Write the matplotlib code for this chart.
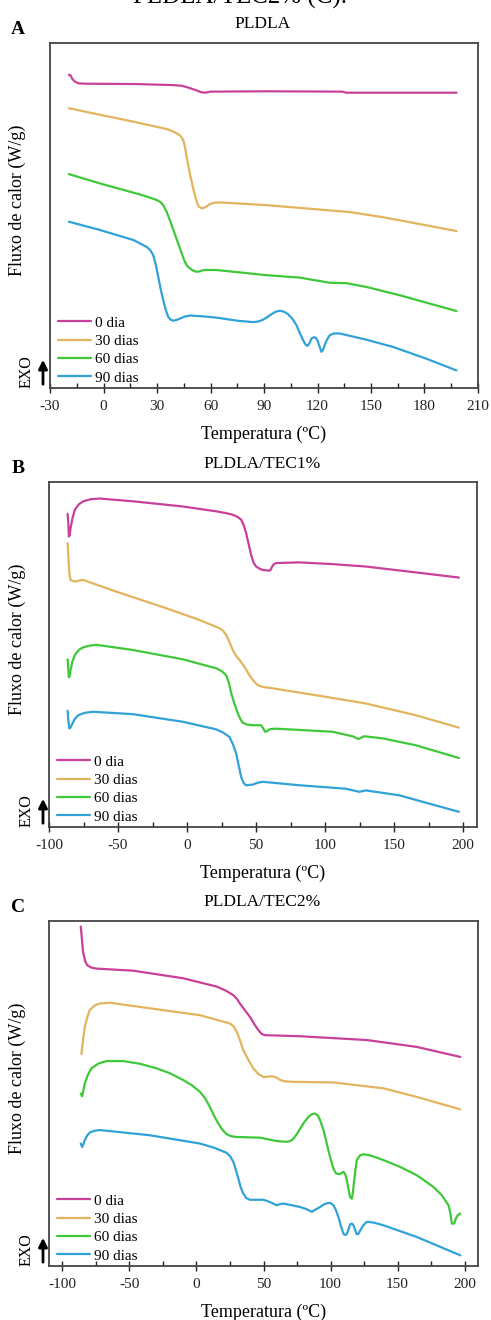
import matplotlib
matplotlib.use("Agg")
import matplotlib.pyplot as plt
from matplotlib.patches import FancyArrowPatch
from matplotlib.ticker import MultipleLocator

plt.rcParams['font.family'] = ['Liberation Serif', 'DejaVu Serif']
plt.rcParams['axes.unicode_minus'] = False

labels = ['0 dia', '30 dias', '60 dias', '90 dias']
colors = ['#c8409a', '#e3b45e', '#3ec83a', '#30a2d8']

# ---- PLDLA ----
a_t0 = [-19.4, -18.5, -17.5, -16.0, -14.0, -10.0, 18.6, 39.0, 44.0, 48.0, 52.0, 55.0, 57.0,
        60.0, 91.0, 134.0, 136.0, 198.0]
a_v0 = [90.8, 90.6, 89.6, 88.8, 88.3, 88.2, 88.1, 87.8, 87.6, 87.0, 86.3, 85.7, 85.6,
        85.9, 86.0, 85.9, 85.6, 85.6]
a_t30 = [-19.4, -2.0, 16.7, 31.6, 36.0, 40.0, 43.0, 44.8, 45.6, 47.0, 48.4, 50.0, 51.2, 52.5,
         53.5, 55.0, 56.3, 58.0, 59.6, 62.0, 65.3, 91.4, 119.4, 138.0, 156.8, 175.4, 197.9]
a_v30 = [81.1, 79.2, 77.2, 75.5, 75.0, 74.1, 73.2, 71.8, 70.0, 66.0, 62.2, 58.5, 56.0, 53.6,
         52.6, 52.1, 52.2, 52.7, 53.3, 53.7, 53.8, 53.0, 51.8, 51.0, 49.5, 47.7, 45.5]
a_t60 = [-19.4, -2.0, 20.4, 26.0, 29.8, 32.0, 33.5, 35.3, 37.2, 39.5, 41.9, 44.0, 45.6, 47.0,
         48.4, 50.3, 52.2, 54.0, 56.0, 63.4, 91.4, 110.0, 126.9, 136.0, 147.4, 166.0, 198.0]
a_v60 = [62.0, 59.3, 56.1, 55.2, 54.5, 53.9, 53.0, 51.2, 48.7, 45.3, 41.9, 38.8, 36.6, 35.3,
         34.7, 34.0, 33.7, 33.8, 34.2, 34.2, 32.7, 32.0, 30.5, 30.4, 29.3, 26.9, 22.3]
a_t90 = [-19.4, -2.0, 16.7, 24.2, 26.3, 27.9, 29.3, 30.7, 32.0, 33.5, 35.0, 36.3, 37.7, 39.1,
         40.8, 42.8, 45.5, 48.4, 55.0, 63.4, 75.0, 84.0, 87.0, 89.5, 92.0, 94.2, 96.5, 98.9,
         101.3, 103.5, 106.0, 108.2, 110.2, 112.0, 113.3, 114.4, 115.5, 116.6, 117.8, 119.0,
         120.0, 120.9, 122.2, 123.1, 124.0, 125.3, 126.9, 129.0, 132.5, 147.4, 162.4, 181.0,
         197.9]
a_v90 = [48.2, 45.8, 42.9, 40.9, 39.9, 38.5, 35.8, 32.2, 28.8, 25.5, 22.5, 20.6, 19.8, 19.5,
         19.7, 20.1, 20.7, 21.0, 20.8, 20.4, 19.5, 19.1, 19.3, 19.8, 20.6, 21.4, 22.1, 22.4,
         22.1, 21.4, 20.0, 18.2, 15.8, 13.8, 12.6, 12.2, 13.0, 14.3, 14.7, 14.6,
         13.8, 12.4, 10.5, 11.0, 12.4, 14.0, 15.3, 15.8, 15.8, 14.0, 11.9, 8.5,
         5.1]

# ---- PLDLA/TEC1% ----
b_t0 = [-86.5, -86.0, -85.6, -85.0, -84.4, -83.0, -81.2, -78.5, -75.2, -70.0, -63.2, -39.1,
        -3.0, 21.1, 28.0, 33.1, 36.5, 39.2, 41.0, 42.8, 44.6, 46.4, 48.2, 50.0, 52.4, 54.8,
        59.6, 60.6, 61.6, 63.0, 64.5, 81.3, 105.4, 129.5, 165.6, 196.9]
b_v0 = [90.8, 88.0, 84.2, 84.5, 86.6, 89.5, 92.0, 93.5, 94.4, 95.0, 95.2, 94.4,
        92.9, 91.5, 91.0, 90.5, 89.9, 89.1, 87.5, 85.2, 82.0, 78.9, 76.6, 75.5, 74.9, 74.5,
        74.3, 74.6, 75.5, 76.2, 76.5, 76.7, 76.2, 75.5, 73.8, 72.3]
b_t30 = [-86.5, -85.6, -85.0, -84.4, -82.0, -80.0, -77.5, -75.2, -51.1, -15.0, 9.1, 23.5,
         26.0, 28.3, 30.7, 33.1, 35.5, 38.0, 41.6, 45.2, 48.2, 51.2, 55.0, 62.0, 93.3, 129.5,
         165.6, 196.9]
b_v30 = [82.3, 75.5, 72.8, 71.6, 71.2, 71.2, 71.5, 71.6, 68.2, 63.4, 60.0, 57.6,
         56.9, 55.7, 53.6, 51.3, 49.6, 48.4, 46.4, 44.0, 42.3, 41.1, 40.6, 40.2, 38.2, 35.8,
         32.4, 28.8]
b_t60 = [-86.5, -86.0, -85.6, -85.0, -84.4, -83.0, -81.2, -78.5, -75.2, -70.0, -65.6, -39.1,
         -3.0, 21.1, 25.0, 28.3, 30.3, 32.0, 34.4, 36.8, 38.6, 40.4, 43.5, 47.6, 53.6, 55.0,
         56.5, 58.0, 59.6, 63.0, 69.3, 105.4, 119.8, 124.1, 128.2, 141.5, 165.6, 196.9]
b_v60 = [48.6, 45.5, 43.4, 43.8, 45.5, 48.0, 49.9, 51.3, 52.1, 52.6, 52.8, 51.3,
         48.6, 46.0, 45.2, 44.0, 41.8, 38.7, 35.6, 32.9, 31.3, 30.2, 29.7, 29.5, 29.5, 28.7,
         27.6, 27.8, 28.3, 28.5, 28.4, 27.6, 26.3, 25.5, 26.3, 25.7, 23.7, 20.0]
b_t90 = [-86.5, -86.0, -85.3, -84.5, -83.6, -81.5, -78.8, -74.0, -68.0, -39.1, -3.0, 21.1,
         26.0, 30.7, 33.2, 35.6, 37.4, 39.2, 41.0, 42.8, 47.6, 51.0, 54.8, 81.3, 115.0, 124.6,
         129.5, 153.5, 196.9]
b_v90 = [33.7, 31.0, 28.6, 28.8, 29.5, 31.2, 32.4, 33.1, 33.4, 32.7, 30.5, 28.3,
         27.4, 26.1, 24.0, 21.3, 17.8, 14.5, 12.7, 12.1, 12.3, 12.8, 13.1, 12.1, 11.1, 10.2,
         10.6, 9.2, 4.4]

# ---- PLDLA/TEC2% ----
c_t0 = [-86.3, -85.5, -84.6, -83.2, -81.6, -78.5, -74.6, -47.2, -9.9, 15.0, 22.0, 27.5,
        30.0, 32.4, 36.0, 39.9, 43.0, 46.1, 48.5, 51.1, 60.0, 77.3, 127.0, 164.4, 196.8]
c_v0 = [98.4, 95.0, 91.1, 88.6, 87.2, 86.5, 86.2, 85.6, 83.4, 81.0, 79.8, 78.5,
        77.5, 76.1, 74.2, 72.2, 70.2, 68.4, 67.3, 66.9, 66.8, 66.6, 65.5, 63.5, 60.6]
c_t30 = [-85.8, -84.6, -83.3, -81.5, -79.6, -76.0, -72.1, -64.6, -34.8, 2.6, 25.0, 27.8,
         30.0, 32.5, 34.9, 38.6, 42.4, 46.0, 49.9, 52.0, 54.9, 57.3, 59.8, 62.0, 64.8, 70.0,
         102.2, 139.5, 164.4, 196.8]
c_v30 = [61.4, 65.5, 69.3, 72.0, 74.2, 75.5, 76.1, 76.3, 74.7, 72.7, 70.3, 69.4,
         67.9, 65.4, 62.6, 59.8, 57.3, 55.7, 54.8, 54.8, 55.0, 54.9, 54.6, 54.0, 53.6, 53.4,
         53.2, 51.5, 49.0, 45.4]
c_t60 = [-86.3, -85.3, -84.4, -83.3, -81.0, -78.3, -73.0, -67.1, -54.7, -42.0, -29.8, -20.0,
         -9.9, -3.5, 2.6, 6.5, 10.0, 13.2, 16.3, 19.3, 22.5, 26.0, 30.0, 47.4, 60.0, 67.3,
         70.0, 72.3, 74.8, 77.3, 80.4, 83.5, 86.0, 88.5, 90.5, 92.2, 94.8, 97.2, 99.7, 102.2,
         104.0, 105.9, 107.7, 109.6, 111.0, 112.1, 113.4, 114.6, 115.8, 116.4, 117.1, 118.3,
         119.6, 121.8, 124.6, 130.0, 139.5, 152.0, 164.4, 176.8, 183.0, 188.0, 189.3, 190.5,
         192.3, 193.5, 194.8, 196.8]
c_v60 = [50.0, 49.2, 50.8, 52.9, 55.4, 57.3, 58.7, 59.4, 59.4, 58.6, 57.3, 55.9,
         53.9, 52.4, 50.5, 48.6, 46.1, 43.5, 41.3, 39.5, 38.2, 37.6, 37.4, 37.2, 36.2, 36.0,
         36.2, 36.9, 38.2, 39.8, 41.7, 43.2, 44.0, 44.2, 43.6, 42.3, 39.3, 35.5, 31.5, 28.2,
         26.9, 26.6, 26.8, 27.3, 26.6, 24.9, 22.3, 20.0, 19.5, 20.5, 22.9, 27.0,
         30.7, 32.0, 32.4, 32.0, 30.7, 28.7, 26.3, 22.9, 20.5, 17.6, 15.5, 12.3,
         12.3, 13.8, 14.7, 15.2]
c_t90 = [-86.3, -85.3, -84.3, -83.3, -81.5, -79.6, -76.0, -72.1, -34.8, 2.6, 13.0, 22.5,
         25.2, 27.5, 29.4, 31.2, 33.0, 34.9, 37.2, 39.9, 49.9, 53.0, 56.1, 59.8, 62.0, 64.8,
         70.0, 77.3, 82.0, 86.0, 89.0, 92.2, 95.3, 98.4, 100.3, 102.2, 104.0, 105.9, 107.8,
         109.6, 110.8, 112.1, 113.4, 114.6, 115.8, 117.1, 118.4, 119.6, 120.8, 122.1, 124.5,
         127.0, 132.0, 139.5, 164.4, 196.8]
c_v90 = [35.5, 34.5, 35.3, 36.5, 37.8, 38.7, 39.2, 39.4, 37.9, 35.5, 34.3, 32.8,
         31.8, 30.2, 27.8, 25.4, 22.8, 21.0, 19.7, 19.2, 19.2, 18.8, 18.3, 17.6, 17.9, 18.1,
         17.7, 17.1, 16.5, 15.7, 16.4, 17.1, 17.9, 18.3, 18.2, 17.6, 16.2, 14.2, 11.5,
         9.4, 9.0, 9.2, 10.6, 12.1, 12.3, 11.8, 10.4, 9.2, 9.3, 10.3, 11.8,
         12.8, 12.6, 11.8, 8.4, 3.1]

panels = [
    dict(letter='A', title='PLDLA', rect=[50/491, 1-388/1320, 428/491, 345/1320],
         xlim=(-30, 210), major=30, minor=15, title_y=23,
         curves=[(a_t0, a_v0), (a_t30, a_v30), (a_t60, a_v60), (a_t90, a_v90)]),
    dict(letter='B', title='PLDLA/TEC1%', rect=[49/491, 1-827/1320, 428/491, 345/1320],
         xlim=(-100, 210), major=50, minor=25, title_y=463,
         curves=[(b_t0, b_v0), (b_t30, b_v30), (b_t60, b_v60), (b_t90, b_v90)]),
    dict(letter='C', title='PLDLA/TEC2%', rect=[49/491, 1-1266/1320, 429/491, 345/1320],
         xlim=(-110, 210), major=50, minor=25, title_y=901,
         curves=[(c_t0, c_v0), (c_t30, c_v30), (c_t60, c_v60), (c_t90, c_v90)]),
]

W, H = 491, 1320
fig = plt.figure(figsize=(W/100, H/100), dpi=100)

# caption line of the page above, only its lower edge falls on the canvas
fig.text(240/W, 1-4/H, 'PLDLA/TEC2% (C).', ha='center', va='baseline', fontsize=18)

for p in panels:
    ax = fig.add_axes(p['rect'])
    for (t, v), c, lab in zip(p['curves'], colors, labels):
        ax.plot(t, v, color=c, lw=1.6, label=lab, solid_joinstyle='round',
                solid_capstyle='round')
    ax.set_xlim(*p['xlim'])
    ax.set_ylim(0, 100)
    ax.set_yticks([])
    ax.xaxis.set_major_locator(MultipleLocator(p['major']))
    ax.xaxis.set_minor_locator(MultipleLocator(p['minor']))
    ax.tick_params(axis='x', which='major', direction='inout', length=7, width=1,
                   labelsize=11, pad=5, colors='#222222')
    ax.tick_params(axis='x', which='minor', direction='in', length=3.5, width=1,
                   colors='#222222')
    for s in ax.spines.values():
        s.set_linewidth(1.3)
        s.set_color('#444444')
    ax.set_xlabel('Temperatura (ºC)', fontsize=13, labelpad=9)

    x0, y0, w, h = p['rect']
    top_px = (1 - (y0 + h)) * H
    bottom_px = (1 - y0) * H
    fig.text(x0 + w/2 - 1/W, 1 - (p['title_y'] + 1)/H, p['title'], ha='center',
             va='center', fontsize=12.5)
    fig.text(18/W, 1 - (p['title_y'] + 6)/H, p['letter'], ha='center', va='center',
             fontsize=14, fontweight='bold')
    fig.text(17/W, 1 - (top_px + 157)/H, 'Fluxo de calor (W/g)', rotation=90,
             ha='center', va='center', fontsize=13)
    fig.text(27/W, 1 - (bottom_px - 16)/H, 'EXO', rotation=90, ha='center', va='center',
             fontsize=11.5)
    fig.patches.append(FancyArrowPatch(
        (43/W, 1 - (bottom_px - 1)/H), (43/W, 1 - (bottom_px - 31)/H),
        transform=fig.transFigure, arrowstyle='-|>', mutation_scale=13,
        color='black', lw=2.0))

    ax.legend(loc='lower left', bbox_to_anchor=(0.0, -0.012), frameon=False,
              fontsize=11, handlelength=2.2, handletextpad=0.25, labelspacing=0.3,
              borderaxespad=0.2, borderpad=0.3)

fig.savefig('out.png', dpi=100)
